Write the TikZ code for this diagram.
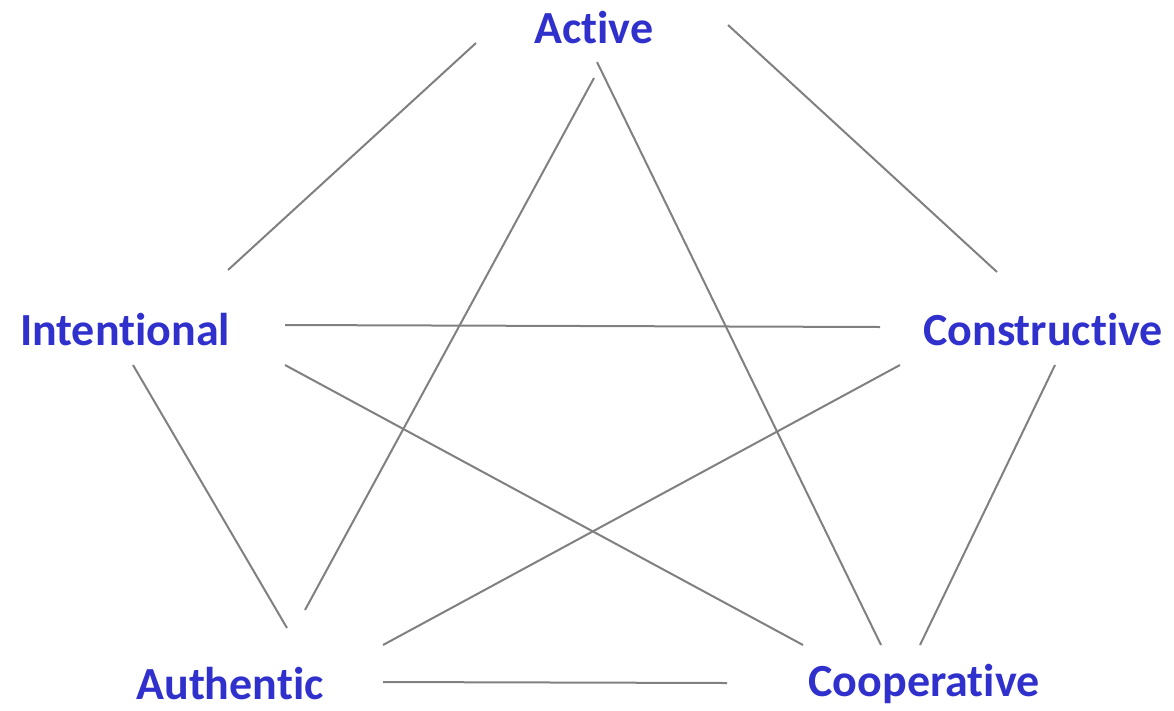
\documentclass[tikz,border=0pt]{standalone}
\usepackage{fontspec}
\setmainfont[Ligatures=NoCommon]{Carlito}
\definecolor{lbl}{RGB}{48,48,204}
\definecolor{edge}{RGB}{128,128,128}
\begin{document}
\begin{tikzpicture}[x=1pt,y=-1pt,
  lab/.style={font=\bfseries\fontsize{46}{46}\selectfont, text=lbl, inner sep=0pt, anchor=center},
  conn/.style={draw=edge, line width=2pt}]
\useasboundingbox (0,0) rectangle (1174,710);
\node[lab] (act) at (594,28) {Active};
\node[lab] (int) at (125,330) {Intentional};
\node[lab] (con) at (1043,330) {Constructive};
\node[lab] (aut) at (230,684) {Authentic};
\node[lab] (coo) at (924,684) {Cooperative};
% endpoints
\coordinate (a1) at (476,43);  \coordinate (i1) at (228,270);
\coordinate (a2) at (728,25);  \coordinate (c1) at (997,272);
\coordinate (a3) at (594,78);  \coordinate (u1) at (305,610);
\coordinate (a4) at (597,62);  \coordinate (o1) at (881,645);
\coordinate (i2) at (285,325); \coordinate (c2) at (880,327);
\coordinate (i3) at (285,365); \coordinate (o2) at (803,645);
\coordinate (c3) at (900,365); \coordinate (u2) at (383,645);
\coordinate (i4) at (133,365); \coordinate (u3) at (287,628);
\coordinate (c4) at (1055,365);\coordinate (o3) at (920,645);
\coordinate (u4) at (383,682); \coordinate (o4) at (727,683);
\draw[conn] (a1) -- (i1);
\draw[conn] (a2) -- (c1);
\draw[conn] (a3) -- (u1);
\draw[conn] (a4) -- (o1);
\draw[conn] (i2) -- (c2);
\draw[conn] (i3) -- (o2);
\draw[conn] (c3) -- (u2);
\draw[conn] (i4) -- (u3);
\draw[conn] (c4) -- (o3);
\draw[conn] (u4) -- (o4);
\end{tikzpicture}
\end{document}
